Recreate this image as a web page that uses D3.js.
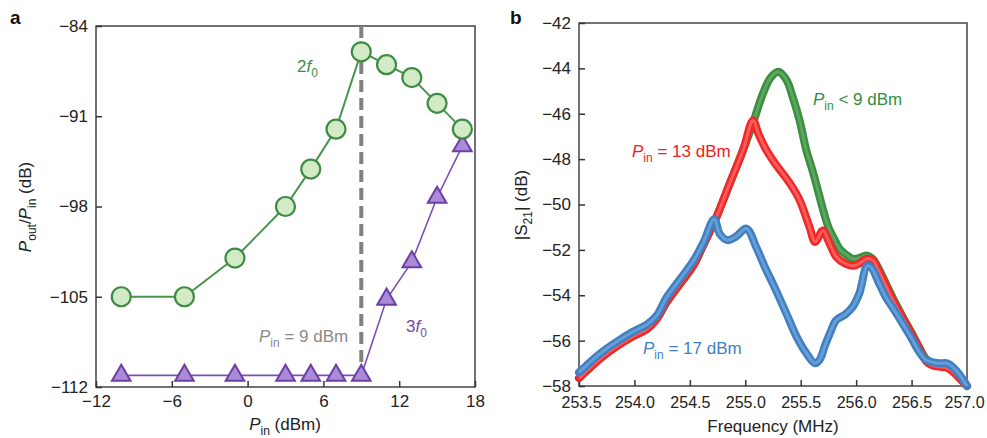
<!DOCTYPE html>
<html>
<head>
<meta charset="utf-8">
<script src="https://cdn.jsdelivr.net/npm/d3@7"></script>
<style>
body { margin: 0; background: #fff; }
svg { font-family: "Liberation Sans", Arial, sans-serif; }
</style>
</head>
<body>
<svg id="chart" width="987" height="438"></svg>
<script>
// panel a data
var pinA = [-10, -5, -1, 3, 5, 7, 9, 11, 13, 15, 17];
var second = [-105, -105, -102, -98, -95.1, -92, -86, -87, -88, -90, -92];
var third = [-111.1, -111.1, -111.1, -111.1, -111.1, -111.1, -111.1, -105.2, -102.3, -97.3, -93.3];
var xTicksA = [-12, -6, 0, 6, 12, 18];
var yTicksA = [-112, -105, -98, -91, -84];

// panel b data
var freqLeft = [253.5, 253.69, 253.84, 253.99, 254.11, 254.2, 254.29, 254.41, 254.53, 254.62, 254.74];
var s21LeftRed = [-57.65, -56.8, -56.25, -55.8, -55.5, -55.05, -54.3, -53.5, -52.7, -51.8, -50.55];

var freqRed = [254.86, 254.98, 255.07, 255.12, 255.19, 255.27, 255.34, 255.42, 255.49, 255.58, 255.63, 255.7, 255.75, 255.82, 255.9, 255.97, 256.03, 256.09, 256.15, 256.2, 256.27, 256.35, 256.42, 256.5, 256.57, 256.63, 256.69, 256.76, 256.82, 256.88, 256.94, 257.0];
var s21Red = [-49.07, -47.6, -46.3, -46.9, -47.6, -48.2, -48.65, -49.2, -49.8, -51.0, -51.65, -51.15, -51.6, -52.3, -52.6, -52.7, -52.6, -52.4, -52.45, -52.9, -53.6, -54.4, -55.0, -55.7, -56.35, -56.9, -57.1, -57.15, -57.2, -57.4, -57.7, -58.0];

var freqGreen = [254.86, 254.98, 255.07, 255.16, 255.23, 255.3, 255.37, 255.43, 255.49, 255.55, 255.6, 255.64, 255.7, 255.75, 255.8, 255.85, 255.92, 255.97, 256.03, 256.09, 256.15, 256.2, 256.27, 256.35, 256.42, 256.5, 256.57, 256.63, 256.69, 256.76, 256.82, 256.88, 256.94, 257.0];
var s21Green = [-49.07, -47.6, -46.4, -45.1, -44.4, -44.15, -44.5, -45.3, -46.3, -47.6, -48.4, -49.1, -50.2, -51.0, -51.5, -51.95, -52.25, -52.4, -52.35, -52.25, -52.4, -52.8, -53.5, -54.3, -54.95, -55.65, -56.3, -56.8, -57.0, -57.05, -57.05, -57.3, -57.65, -58.0];

var freqBlue = [253.5, 253.69, 253.84, 253.99, 254.11, 254.2, 254.29, 254.41, 254.53, 254.62, 254.72, 254.77, 254.84, 254.92, 255.01, 255.1, 255.19, 255.25, 255.37, 255.46, 255.55, 255.63, 255.67, 255.72, 255.77, 255.82, 255.9, 255.97, 256.03, 256.1, 256.14, 256.2, 256.27, 256.35, 256.42, 256.5, 256.57, 256.63, 256.69, 256.76, 256.82, 256.88, 256.94, 257.0];
var s21Blue = [-57.4, -56.57, -56.05, -55.6, -55.3, -54.9, -54.1, -53.3, -52.5, -51.7, -50.65, -51.3, -51.57, -51.4, -51.06, -51.9, -52.9, -53.5, -54.8, -55.8, -56.55, -57.0, -56.85, -56.2, -55.6, -55.1, -54.85, -54.5, -53.9, -52.7, -52.8, -53.4, -54.1, -54.7, -55.25, -55.9, -56.5, -56.85, -56.95, -57.0, -57.0, -57.2, -57.55, -58.0];
var xTicksB = [253.5, 254.0, 254.5, 255.0, 255.5, 256.0, 256.5, 257.0];
var yTicksB = [-58, -56, -54, -52, -50, -48, -46, -44, -42];

var svg = d3.select("#chart");

var xA = d3.scaleLinear().domain([-12, 18]).range([96, 475]);
var yA = d3.scaleLinear().domain([-112, -84]).range([387, 26]);
var xB = d3.scaleLinear().domain([253.5, 257]).range([579, 967]);
var yB = d3.scaleLinear().domain([-58, -42]).range([386, 23]);

function frame(x, y) {
	svg.append("rect")
	.attr("x", x.range()[0])
	.attr("y", y.range()[1])
	.attr("width", x.range()[1] - x.range()[0])
	.attr("height", y.range()[0] - y.range()[1])
	.style("fill", "none")
	.style("stroke", "#444")
	.style("stroke-width", 1.5);
}

function axes(x, y, xt, yt, xfmt, xsize, xpad) {
	var gx = svg.append("g")
	.attr("transform", "translate(0," + y.range()[0] + ")")
	.call(d3.axisBottom(x).tickValues(xt).tickFormat(xfmt).tickSizeInner(-6).tickSizeOuter(0).tickPadding(xpad));
	var gy = svg.append("g")
	.attr("transform", "translate(" + x.range()[0] + ",0)")
	.call(d3.axisLeft(y).tickValues(yt).tickSizeInner(-6).tickSizeOuter(0).tickPadding(8));
	[gx, gy].forEach(function (g) {
		g.select(".domain").remove();
		g.selectAll("line").style("stroke", "#333").style("stroke-width", 1.5);
		g.selectAll("text").style("font-size", "17px").style("fill", "#222")
		.style("font-family", "'Liberation Sans', Arial, sans-serif");
	});
	gx.selectAll("text").style("font-size", xsize);
	return gx;
}

// ---------- panel a ----------
frame(xA, yA);
axes(xA, yA, xTicksA, yTicksA, d3.format("d"), "17px", 8);

svg.append("line")
.attr("x1", xA(9)).attr("x2", xA(9))
.attr("y1", yA(-84)).attr("y2", yA(-110.6))
.style("stroke", "#808080")
.style("stroke-width", 4)
.style("stroke-dasharray", "12,6");

var lineA = d3.line()
.x(function (d, i) { return xA(pinA[i]); })
.y(function (d) { return yA(d); });

svg.append("path")
.attr("d", lineA(third))
.style("fill", "none")
.style("stroke", "#7a50b2")
.style("stroke-width", 1.6);

svg.selectAll(".tri")
.data(third)
.enter().append("path")
.attr("class", "tri")
.attr("transform", function (d, i) {
	return "translate(" + xA(pinA[i]) + "," + yA(d) + ")";
})
.attr("d", d3.symbol().type(d3.symbolTriangle).size(150))
.style("fill", "#a98bd8")
.style("stroke", "#6d3ea6")
.style("stroke-width", 2);

svg.append("path")
.attr("d", lineA(second))
.style("fill", "none")
.style("stroke", "#4a9450")
.style("stroke-width", 2);

svg.selectAll(".circ")
.data(second)
.enter().append("circle")
.attr("class", "circ")
.attr("cx", function (d, i) { return xA(pinA[i]); })
.attr("cy", function (d) { return yA(d); })
.attr("r", 9.5)
.style("fill", "#d3eac6")
.style("stroke", "#3d8c44")
.style("stroke-width", 2.2);

// labels with subscripts
function subLabel(x, y, main, sub, rest, color, italic) {
	var t = svg.append("text")
	.attr("x", x).attr("y", y)
	.style("font-size", "17px")
	.style("fill", color);
	t.append("tspan").text(main).style("font-style", italic ? "italic" : "normal");
	t.append("tspan").text(sub).attr("dy", 5).style("font-size", "12px");
	t.append("tspan").text(rest).attr("dy", -5);
	return t;
}

var t2 = svg.append("text").attr("x", 297).attr("y", 72).style("font-size", "17px").style("fill", "#3d8c44");
t2.append("tspan").text("2");
t2.append("tspan").text("f").style("font-style", "italic");
t2.append("tspan").text("0").attr("dy", 5).style("font-size", "12px");

var t3 = svg.append("text").attr("x", 406).attr("y", 332).style("font-size", "17px").style("fill", "#7a3fb0");
t3.append("tspan").text("3");
t3.append("tspan").text("f").style("font-style", "italic");
t3.append("tspan").text("0").attr("dy", 5).style("font-size", "12px");

subLabel(259, 342, "P", "in", " = 9 dBm", "#8a8a8a", true);

// x label a
var xl = svg.append("text").attr("x", 285).attr("y", 430).attr("text-anchor", "middle")
.style("font-size", "17px").style("fill", "#222");
xl.append("tspan").text("P").style("font-style", "italic");
xl.append("tspan").text("in").attr("dy", 5).style("font-size", "12px");
xl.append("tspan").text(" (dBm)").attr("dy", -5);

// y label a
var yl = svg.append("text").attr("transform", "translate(31,207) rotate(-90)").attr("text-anchor", "middle")
.style("font-size", "17px").style("fill", "#222");
yl.append("tspan").text("P").style("font-style", "italic");
yl.append("tspan").text("out").attr("dy", 5).style("font-size", "12px");
yl.append("tspan").text("/").attr("dy", -5);
yl.append("tspan").text("P").style("font-style", "italic");
yl.append("tspan").text("in").attr("dy", 5).style("font-size", "12px");
yl.append("tspan").text(" (dB)").attr("dy", -5);

svg.append("text").attr("x", 10).attr("y", 24).text("a")
.style("font-size", "19px").style("font-weight", "bold").style("fill", "#111");

// ---------- panel b ----------
frame(xB, yB);
var gxB = axes(xB, yB, xTicksB, yTicksB, d3.format(".1f"), "16px", 11);
// keep the end labels inside the picture
gxB.selectAll("text").attr("dx", function (d) {
	if (d === 257.0) return -3;
	if (d === 253.5) return 2;
	return 0;
});

var lineB = d3.line()
.x(function (d) { return xB(d[0]); })
.y(function (d) { return yB(d[1]); })
.curve(d3.curveCatmullRom.alpha(0.5));

function pairs(xs, ys) {
	return xs.map(function (x, i) { return [x, ys[i]]; });
}

var leftPairs = pairs(freqLeft, s21LeftRed);
var series = [
	{ pts: leftPairs.concat(pairs(freqGreen, s21Green)), outer: "#3b8f40", inner: "#74b476" },
	{ pts: leftPairs.concat(pairs(freqRed, s21Red)), outer: "#f22828", inner: "#ff8080" },
	{ pts: pairs(freqBlue, s21Blue), outer: "#3f7fc2", inner: "#82b2e2" }
];

series.forEach(function (s) {
	svg.append("path")
	.attr("d", lineB(s.pts))
	.style("fill", "none")
	.style("stroke", s.outer)
	.style("stroke-width", 8)
	.style("stroke-linejoin", "round")
	.style("stroke-linecap", "round");
	svg.append("path")
	.attr("d", lineB(s.pts))
	.style("fill", "none")
	.style("stroke", s.inner)
	.style("stroke-width", 3)
	.style("stroke-opacity", 0.6)
	.style("stroke-linejoin", "round");
});

subLabel(813, 105, "P", "in", " < 9 dBm", "#2f8f3e", true);
subLabel(632, 157, "P", "in", " = 13 dBm", "#f02020", true);
subLabel(643, 354, "P", "in", " = 17 dBm", "#3f7fc2", true);

svg.append("text").attr("x", 773).attr("y", 432).attr("text-anchor", "middle")
.text("Frequency (MHz)").style("font-size", "17px").style("fill", "#222");

var ylb = svg.append("text").attr("transform", "translate(527,205) rotate(-90)").attr("text-anchor", "middle")
.style("font-size", "17px").style("fill", "#222");
ylb.append("tspan").text("|S");
ylb.append("tspan").text("21").attr("dy", 5).style("font-size", "12px");
ylb.append("tspan").text("| (dB)").attr("dy", -5);

svg.append("text").attr("x", 510).attr("y", 24).text("b")
.style("font-size", "19px").style("font-weight", "bold").style("fill", "#111");
</script>
</body>
</html>
